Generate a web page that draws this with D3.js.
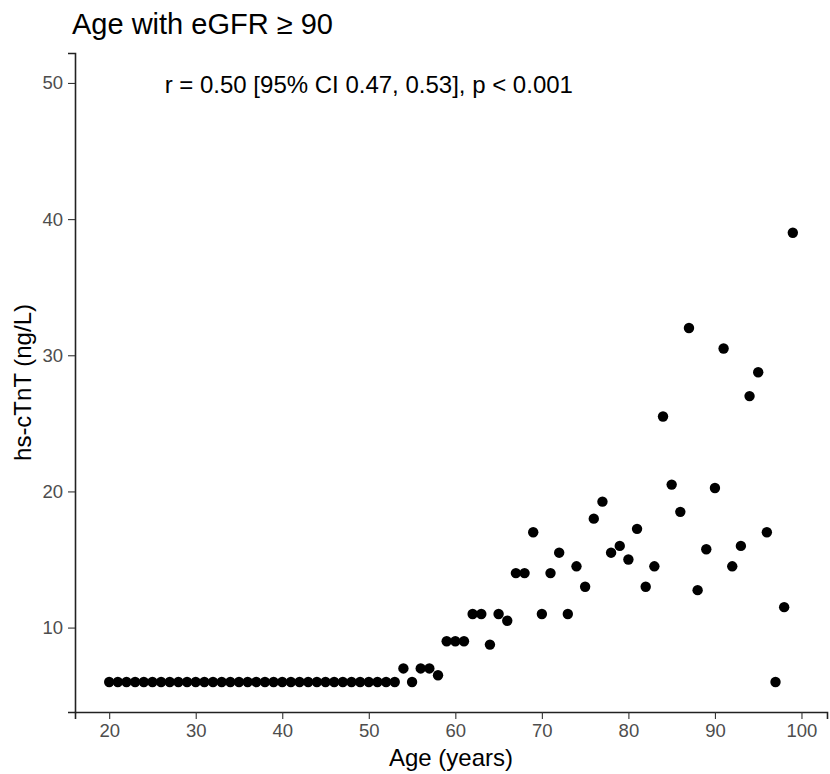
<!DOCTYPE html>
<html>
<head>
<meta charset="utf-8">
<script src="https://cdn.jsdelivr.net/npm/d3@7"></script>
<style>
  body { margin: 0; background: #fff; }
  text { font-family: "Liberation Sans", Arial, sans-serif; }
</style>
</head>
<body>
<div id="chart"></div>
<script>
// ages 20..99, hs-cTnT values
var ages = d3.range(20, 100);
var tnt = [
  6, 6, 6, 6, 6, 6, 6, 6, 6, 6,          // 20-29
  6, 6, 6, 6, 6, 6, 6, 6, 6, 6,          // 30-39
  6, 6, 6, 6, 6, 6, 6, 6, 6, 6,          // 40-49
  6, 6, 6, 6, 7, 6, 7, 7, 6.5, 9,        // 50-59
  9, 9, 11, 11, 8.75, 11, 10.5, 14, 14, 17,          // 60-69
  11, 14, 15.5, 11, 14.5, 13, 18, 19.25, 15.5, 16,    // 70-79
  15, 17.25, 13, 14.5, 25.5, 20.5, 18.5, 32, 12.75, 15.75, // 80-89
  20.25, 30.5, 14.5, 16, 27, 28.75, 17, 6, 11.5, 39  // 90-99
];
var xTicks = [20, 30, 40, 50, 60, 70, 80, 90, 100];
var yTicks = [10, 20, 30, 40, 50];
var title = "Age with eGFR \u2265 90";
var note = "r = 0.50 [95% CI 0.47, 0.53], p < 0.001";

var width = 830, height = 774;
var margin = {top: 53, right: 3, bottom: 62, left: 75};
var w = width - margin.left - margin.right,
    h = height - margin.top - margin.bottom;

var svg = d3.select("#chart").append("svg")
    .attr("width", width).attr("height", height);
var g = svg.append("g")
    .attr("transform", "translate(" + margin.left + "," + margin.top + ")");

// ggplot style 5% expansion
var xs = d3.scaleLinear().domain([20 - 3.95, 99 + 3.95]).range([0, w]);
var ys = d3.scaleLinear().domain([6 - 2.2, 50 + 2.2]).range([h, 0]);

var xAxis = g.append("g")
    .attr("transform", "translate(0," + h + ")")
    .call(d3.axisBottom(xs).tickValues(xTicks).tickSize(7).tickPadding(5));
var yAxis = g.append("g")
    .call(d3.axisLeft(ys).tickValues(yTicks).tickSize(7).tickPadding(5));

[xAxis, yAxis].forEach(function(a) {
  a.select(".domain").attr("stroke", "#222").attr("stroke-width", 1.6);
  a.selectAll(".tick line").attr("stroke", "#333").attr("stroke-width", 1.1);
  a.selectAll(".tick text").attr("fill", "#4d4d4d").style("font-size", "18.5px");
});

g.selectAll("circle.pt")
  .data(ages)
  .enter().append("circle")
  .attr("class", "pt")
  .attr("cx", function(d) { return xs(d); })
  .attr("cy", function(d, i) { return ys(tnt[i]); })
  .attr("r", 5.2)
  .attr("fill", "#000");

g.append("text")
  .attr("x", xs(50)).attr("y", ys(50))
  .attr("dy", "0.42em")
  .attr("text-anchor", "middle")
  .style("font-size", "24px")
  .attr("fill", "#000")
  .text(note);

svg.append("text")
  .attr("x", 72).attr("y", 34)
  .style("font-size", "29px")
  .attr("fill", "#000")
  .text(title);

svg.append("text")
  .attr("x", margin.left + w / 2).attr("y", 766)
  .attr("text-anchor", "middle")
  .style("font-size", "24px")
  .text("Age (years)");

svg.append("text")
  .attr("transform", "translate(31," + (margin.top + h / 2) + ") rotate(-90)")
  .attr("text-anchor", "middle")
  .style("font-size", "24px")
  .text("hs-cTnT (ng/L)");
</script>
</body>
</html>
